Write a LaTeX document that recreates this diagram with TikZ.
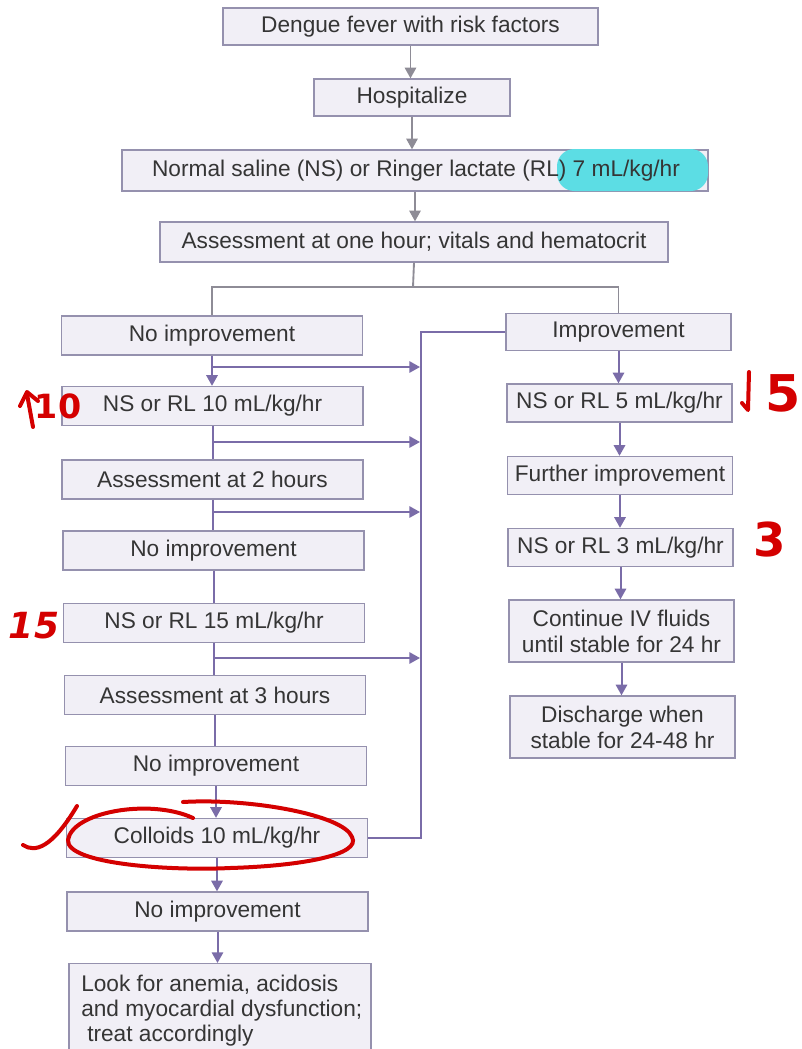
\documentclass[tikz,border=0pt]{standalone}
\usepackage{fontspec}
\setmainfont{Liberation Sans}
\newfontfamily\handfont{DejaVu Sans}
\usetikzlibrary{arrows.meta}
\definecolor{boxfill}{HTML}{F1EFF6}
\definecolor{boxline}{HTML}{9591AE}
\definecolor{txt}{HTML}{353535}
\definecolor{grayline}{HTML}{8E8C96}
\definecolor{purpline}{HTML}{7A6CA8}
\definecolor{pen}{HTML}{D40000}
\definecolor{hilite}{HTML}{5CDDE4}
\begin{document}
\begin{tikzpicture}[x=0.75pt,y=-0.75pt,
  box/.style={draw=boxline, fill=boxfill, line width=1pt, inner sep=0pt, text=txt, font=\fontsize{17}{20}\selectfont},
  plain/.style={inner sep=0pt, text=txt, font=\fontsize{17}{20}\selectfont},
  lbox/.style={box, minimum width=225.75pt, minimum height=29.25pt},
  rbox/.style={box, minimum width=168.75pt, minimum height=28.5pt},
  glink/.style={draw=grayline, line width=1.4pt},
  garr/.style={glink, -{Triangle[width=8.5pt,length=8pt]}},
  plink/.style={draw=purpline, line width=1.5pt},
  parr/.style={plink, -{Triangle[width=8.5pt,length=8pt]}},
  ink/.style={draw=pen, line width=3pt, line cap=round, line join=round},
  note/.style={text=pen, inner sep=0pt},
]
\clip (0,0) rectangle (801,1049);
\fill[white] (0,0) rectangle (801,1049);

% top chain
\node[box, minimum width=281.25pt, minimum height=27.75pt] (dengue) at (410.5,26.5) {Dengue fever with risk factors};
\node[box, minimum width=147pt, minimum height=27.75pt] (hosp) at (412,97.5) {Hospitalize};
\node[box, minimum width=439.5pt, minimum height=30.75pt] (saline) at (415,170.5) {};
\fill[hilite, rounded corners=13pt] (557,149) rectangle (708,191);
\node[plain] (salinetext) at (416,170.5) {Normal saline (NS) or Ringer lactate (RL) 7 mL/kg/hr};
\node[box, minimum width=381pt, minimum height=30pt] (assess1) at (414,242) {Assessment at one hour; vitals and hematocrit};

\draw[garr] (dengue.south) -- (dengue.south |- hosp.north);
\draw[garr] (hosp.south) -- (hosp.south |- saline.north);
\draw[garr] (saline.south) -- (saline.south |- assess1.north);

% left column
\node[lbox] (noimp1) at (212,335.5) {No improvement};
\node[lbox] (ns10) at (212.5,406) {NS or RL 10 mL/kg/hr};
\node[lbox] (ass2) at (212.5,479.5) {Assessment at 2 hours};
\node[lbox] (noimp2) at (213.5,550.5) {No improvement};
\node[lbox] (ns15) at (214,623) {NS or RL 15 mL/kg/hr};
\node[lbox] (ass3) at (215,695) {Assessment at 3 hours};
\node[lbox] (noimp3) at (216,766) {No improvement};
\node[lbox] (coll) at (217,838) {Colloids 10 mL/kg/hr};
\node[lbox] (noimp4) at (217.5,911.5) {No improvement};
\node[box, minimum width=226.5pt, minimum height=75pt, anchor=north] (look) at (220,963) {};
\node[plain, anchor=north west, align=left, font=\fontsize{17}{18.75}\selectfont] (looktext) at (81,975)
  {Look for anemia, acidosis\\and myocardial dysfunction;\\\hspace*{4.5pt}treat accordingly};

% right column
\node[rbox, minimum height=27.75pt] (imp) at (618.5,332) {Improvement};
\node[rbox] (ns5) at (619.5,403) {NS or RL 5 mL/kg/hr};
\node[rbox] (further) at (620,475.5) {Further improvement};
\node[rbox] (ns3) at (620.5,547.5) {NS or RL 3 mL/kg/hr};
\node[rbox, minimum height=46.5pt, align=center, font=\fontsize{17}{19.5}\selectfont] (cont) at (621.5,631) {Continue IV fluids\\until stable for 24 hr};
\node[rbox, minimum height=46.5pt, align=center, font=\fontsize{17}{19.5}\selectfont] (disch) at (622.5,727) {Discharge when\\stable for 24-48 hr};

% split after first assessment
\coordinate (split) at (413,287);
\draw[glink] (assess1.south) -- (split);
\draw[glink] (split) -| (noimp1.north);
\draw[glink] (split) -| (imp.north);

% left chain
\draw[parr] (noimp1.south) -- (noimp1.south |- ns10.north);
\draw[plink] (ns10.south) -- (ns10.south |- ass2.north);
\draw[plink] (ass2.south) -- (ass2.south |- noimp2.north);
\draw[plink] (noimp2.south) -- (noimp2.south |- ns15.north);
\draw[plink] (ns15.south) -- (ns15.south |- ass3.north);
\draw[plink] (ass3.south) -- (ass3.south |- noimp3.north);
\draw[parr] (noimp3.south) -- (noimp3.south |- coll.north);
\draw[parr] (coll.south) -- (coll.south |- noimp4.north);
\draw[parr] (noimp4.south) -- (noimp4.south |- look.north);

% bus to improvement
\coordinate (busbot) at (421,838);
\draw[plink] (imp.west) -| (busbot) -- (coll.east);
\coordinate (b1) at (212,367);   \coordinate (e1) at (420,367);
\coordinate (b2) at (212.5,442); \coordinate (e2) at (420,442);
\coordinate (b3) at (213,512);   \coordinate (e3) at (420,512);
\coordinate (b4) at (214,658);   \coordinate (e4) at (420,658);
\draw[parr] (b1) -- (e1);
\draw[parr] (b2) -- (e2);
\draw[parr] (b3) -- (e3);
\draw[parr] (b4) -- (e4);

% right chain
\draw[parr] (imp.south) -- (imp.south |- ns5.north);
\draw[parr] (ns5.south) -- (ns5.south |- further.north);
\draw[parr] (further.south) -- (further.south |- ns3.north);
\draw[parr] (ns3.south) -- (ns3.south |- cont.north);
\draw[parr] (cont.south) -- (cont.south |- disch.north);

% handwritten annotations
\draw[ink] (33,427) -- (27,394);
\draw[ink] (20,406) -- (27,392) -- (38,401);
\node[note, font=\handfont\bfseries\fontsize{25}{25}\selectfont] (n10) at (58,406) {10};
\draw[ink] (749,372) -- (748,410) -- (742,403);
\node[note, font=\handfont\bfseries\fontsize{38}{38}\selectfont] (n5) at (783,393) {5};
\node[note, font=\handfont\bfseries\fontsize{35}{35}\selectfont] (n3) at (770,540) {3};
\node[note, font=\handfont\bfseries\itshape\fontsize{27}{27}\selectfont] (n15) at (34,626) {15};
\draw[ink] (23,845) .. controls (35,853) and (52,848) .. (77,806);
\draw[ink] (193,818) .. controls (150,798) and (72,812) .. (68,840)
  .. controls (66,864) and (170,871) .. (230,868)
  .. controls (300,866) and (362,855) .. (352,837)
  .. controls (344,815) and (250,798) .. (183,802);
\end{tikzpicture}
\end{document}
